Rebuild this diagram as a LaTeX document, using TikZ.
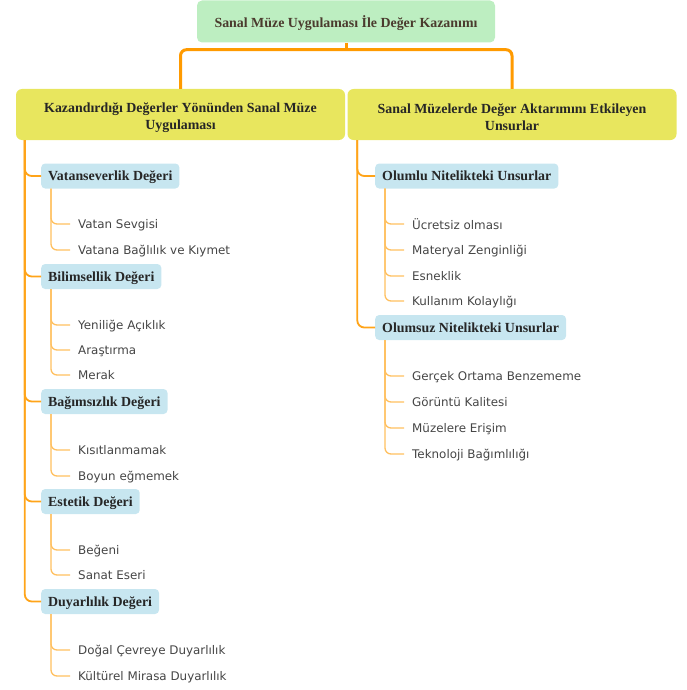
\documentclass[tikz,border=0pt]{standalone}
\usepackage{fontspec}
\setmainfont{Liberation Serif}
\newfontfamily\leaffont{DejaVu Sans}
\definecolor{rootfill}{HTML}{BDEEC1}
\definecolor{groupfill}{HTML}{E8E65E}
\definecolor{valuefill}{HTML}{C7E6F0}
\definecolor{edgeorange}{HTML}{FF9A00}
\definecolor{leaforange}{HTML}{FFC060}
\definecolor{roottext}{HTML}{4B3B2E}
\definecolor{leaftext}{HTML}{454545}
\tikzset{
    rootnode/.style={fill=rootfill,rounded corners=5pt,minimum width=298pt,minimum height=42pt,inner sep=0pt,text depth=0pt,text=roottext,font=\bfseries\fontsize{13.9}{16}\selectfont},
    groupnode/.style={fill=groupfill,rounded corners=6pt,minimum width=329pt,minimum height=51pt,inner sep=0pt,align=center,text=black!85,font=\bfseries\fontsize{13.9}{17}\selectfont},
    valuenode/.style={fill=valuefill,rounded corners=4pt,anchor=west,minimum height=25pt,inner xsep=7pt,inner ysep=0pt,text depth=0pt,text=black!85,font=\bfseries\fontsize{13.9}{16}\selectfont},
    leafnode/.style={anchor=west,inner sep=0pt,text depth=0pt,text=leaftext,font=\leaffont\fontsize{11.9}{14}\selectfont},
    rootedge/.style={edgeorange,line width=3pt,rounded corners=6pt},
    groupedge/.style={edgeorange!90,line width=1.8pt,rounded corners=7pt},
    leafedge/.style={leaforange,line width=1.3pt,rounded corners=6pt}
}
% leaves under a value box: #1 parent, #2 prefix, #3 list of text/y
\newcommand{\PlaceLeaves}[3]{%
    \foreach [count=\i] \t/\y in {#3} {
        \node[leafnode] (#2\i) at ([xshift=37pt]#1.west |- 0,\y) {\t};
        \draw[leafedge] ([xshift=10pt]#1.south west) |- ([xshift=-8pt]#2\i.west);
    }%
}

\begin{document}
\begin{tikzpicture}[x=1pt,y=-1pt]
    \useasboundingbox (0,0) rectangle (686,690);

    % root and the two groups
    \node[rootnode] (root) at (346,21.5) {Sanal Müze Uygulaması İle Değer Kazanımı};
    \node[groupnode] (kaz) at (180.5,114.5) {\rule{0pt}{16pt}Kazandırdığı Değerler Yönünden Sanal Müze\\Uygulaması};
    \node[groupnode] (san) at (512,114.5) {\rule{0pt}{16pt}Sanal Müzelerde Değer Aktarımını Etkileyen\\Unsurlar};

    \draw[rootedge] (root.south) -- ++(0,7) coordinate (fork);
    \draw[rootedge] (kaz.north) |- (fork) -| (san.north);

    % left group: values
    \node[valuenode] (vat) at (41,176) {Vatanseverlik Değeri};
    \node[valuenode] (bil) at (41,276.5) {Bilimsellik Değeri};
    \node[valuenode] (bag) at (41,401.5) {Bağımsızlık Değeri};
    \node[valuenode] (est) at (41,501.5) {Estetik Değeri};
    \node[valuenode] (duy) at (41,601.5) {Duyarlılık Değeri};
    \foreach \n in {vat,bil,bag,est,duy} {
        \draw[groupedge] ([xshift=9pt]kaz.south west) |- (\n.west);
    }

    \PlaceLeaves{vat}{v}{Vatan Sevgisi/224,Vatana Bağlılık ve Kıymet/250}
    \PlaceLeaves{bil}{b}{Yeniliğe Açıklık/325,Araştırma/350,Merak/375}
    \PlaceLeaves{bag}{g}{Kısıtlanmamak/450,Boyun eğmemek/476}
    \PlaceLeaves{est}{e}{Beğeni/550,Sanat Eseri/575}
    \PlaceLeaves{duy}{d}{Doğal Çevreye Duyarlılık/650,Kültürel Mirasa Duyarlılık/676}

    % right group: factors
    \node[valuenode] (olu) at (375,176) {Olumlu Nitelikteki Unsurlar};
    \node[valuenode] (oms) at (375,327.5) {Olumsuz Nitelikteki Unsurlar};
    \foreach \n in {olu,oms} {
        \draw[groupedge] ([xshift=10pt]san.south west) |- (\n.west);
    }

    \PlaceLeaves{olu}{p}{Ücretsiz olması/224,Materyal Zenginliği/250,Esneklik/276,Kullanım Kolaylığı/301}
    \PlaceLeaves{oms}{n}{Gerçek Ortama Benzememe/376,Görüntü Kalitesi/402,Müzelere Erişim/428,Teknoloji Bağımlılığı/454}
\end{tikzpicture}
\end{document}
